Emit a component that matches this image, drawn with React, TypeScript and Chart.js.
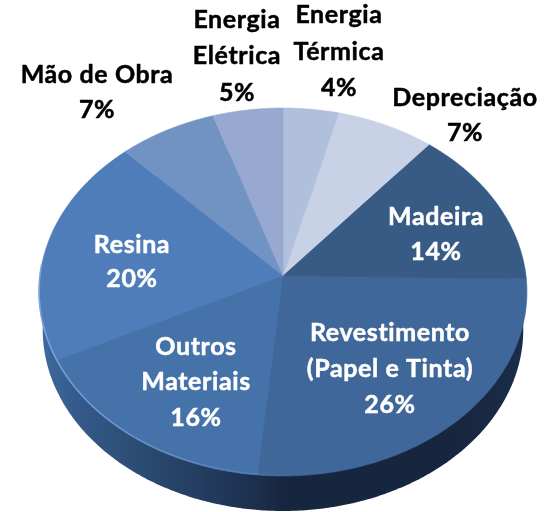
import React, { useEffect, useRef } from "react";
import { Chart, ArcElement, DoughnutController } from "chart.js";

const categories = ["Energia Térmica", "Depreciação", "Madeira", "Revestimento (Papel e Tinta)", "Outros Materiais", "Resina", "Mão de Obra", "Energia Elétrica"];
const shares = [4, 7, 14, 26, 16, 20, 7, 5];
const colors = ["#AFBFDC", "#C8D2E6", "#385B86", "#40679A", "#4672AA", "#4E7DB9", "#7093C4", "#97A9D0"];

const labelLines = [
  ["Energia", "Térmica", "4%"],
  ["Depreciação", "7%"],
  ["Madeira", "14%"],
  ["Revestimento", "(Papel e Tinta)", "26%"],
  ["Outros", "Materiais", "16%"],
  ["Resina", "20%"],
  ["Mão de Obra", "7%"],
  ["Energia", "Elétrica", "5%"],
];
const labelX = [339, 465, 436, 390, 196, 132, 97, 237];
const labelY = [
  [15, 52, 88],
  [98, 133],
  [217, 252],
  [333, 369, 405],
  [347, 382, 418],
  [245, 279],
  [75, 110],
  [20, 56, 93],
];
const labelColor = ["#000", "#000", "#fff", "#fff", "#fff", "#fff", "#000", "#000"];

const PIVOT_X = 283;
const PIVOT_Y = 276;
const RX = 243;
const RY = 182.6;
const TILT = 0.087;
const DEPTH = 38;
const SHRINK = 0.985;

function project(angle: number) {
  const t = angle + Math.PI / 2;
  const w = 1 + TILT * Math.cos(t);
  return { x: PIVOT_X + (RX * Math.sin(t)) / w, y: PIVOT_Y - (RY * Math.cos(t)) / w };
}

function rimPoints(start: number, end: number) {
  const n = Math.max(2, Math.ceil((end - start) / 0.01));
  const pts = [];
  for (let i = 0; i <= n; i++) pts.push(project(start + ((end - start) * i) / n));
  return pts;
}

class Arc3D extends ArcElement {
  static id = "arc3d";
  draw(ctx: CanvasRenderingContext2D) {
    const { startAngle, endAngle } = this as any;
    const color = (this as any).options.backgroundColor;
    ctx.save();
    ctx.beginPath();
    ctx.moveTo(PIVOT_X, PIVOT_Y);
    rimPoints(startAngle, endAngle).forEach((p) => ctx.lineTo(p.x, p.y));
    ctx.closePath();
    ctx.fillStyle = color;
    ctx.strokeStyle = color;
    ctx.lineWidth = 0.6;
    ctx.fill();
    ctx.stroke();
    ctx.restore();
  }
}

class Pie3D extends DoughnutController {
  static id = "pie3d";
  static defaults = { dataElementType: "arc3d" };
}

const sidePlugin = {
  id: "side",
  beforeDatasetsDraw(chart: any) {
    const ctx: CanvasRenderingContext2D = chart.ctx;
    const rim = rimPoints(-Math.PI / 2, Math.PI * 1.5);
    const low = rim.map((p) => ({
      x: PIVOT_X + (p.x - PIVOT_X) * SHRINK,
      y: PIVOT_Y + (p.y - PIVOT_Y) * SHRINK + DEPTH,
    }));
    const g = ctx.createLinearGradient(40, 0, 528, 0);
    g.addColorStop(0, "#3F6A9C");
    g.addColorStop(0.08, "#34598A");
    g.addColorStop(0.2, "#2C4C73");
    g.addColorStop(0.4, "#1F3555");
    g.addColorStop(0.5, "#17263F");
    g.addColorStop(0.85, "#17263F");
    g.addColorStop(1, "#1B2D49");
    ctx.save();
    ctx.fillStyle = g;
    ctx.beginPath();
    low.forEach((p, i) => (i ? ctx.lineTo(p.x, p.y) : ctx.moveTo(p.x, p.y)));
    ctx.closePath();
    ctx.fill();
    ctx.restore();
  },
  afterDatasetsDraw(chart: any) {
    const ctx: CanvasRenderingContext2D = chart.ctx;
    ctx.save();
    const g = ctx.createLinearGradient(40, 0, 300, 0);
    g.addColorStop(0, "rgba(122,165,220,0.95)");
    g.addColorStop(0.6, "rgba(110,150,205,0.6)");
    g.addColorStop(1, "rgba(110,150,205,0)");
    ctx.strokeStyle = g;
    ctx.lineWidth = 1.6;
    ctx.beginPath();
    rimPoints(Math.PI * 0.5, Math.PI * 1.02).forEach((p, i) => (i ? ctx.lineTo(p.x, p.y - 0.8) : ctx.moveTo(p.x, p.y - 0.8)));
    ctx.stroke();
    ctx.textAlign = "center";
    ctx.textBaseline = "middle";
    ctx.font = "bold 25px Lato";
    (ctx as any).letterSpacing = "0.6px";
    ctx.lineJoin = "round";
    labelLines.forEach((lines, i) => {
      ctx.fillStyle = labelColor[i];
      ctx.strokeStyle = labelColor[i];
      ctx.lineWidth = 0.5;
      lines.forEach((line, j) => {
        ctx.strokeText(line, labelX[i], labelY[i][j]);
        ctx.fillText(line, labelX[i], labelY[i][j]);
      });
    });
    ctx.restore();
  },
};

Chart.register(Arc3D, Pie3D);

export default function App() {
  const ref = useRef<HTMLCanvasElement>(null);
  useEffect(() => {
    const chart = new Chart(ref.current!, {
      type: "pie3d" as any,
      data: {
        labels: categories,
        datasets: [{ data: shares, backgroundColor: colors, borderWidth: 0 }],
      },
      options: {
        animation: false,
        responsive: false,
        cutout: 0,
        events: [],
      } as any,
      plugins: [sidePlugin],
    });
    return () => chart.destroy();
  }, []);
  return (
    <div style={{ position: "fixed", left: 0, top: 0, width: 549, height: 512, background: "#fff" }}>
      <canvas ref={ref} width={549} height={512} style={{ display: "block" }} />
    </div>
  );
}
